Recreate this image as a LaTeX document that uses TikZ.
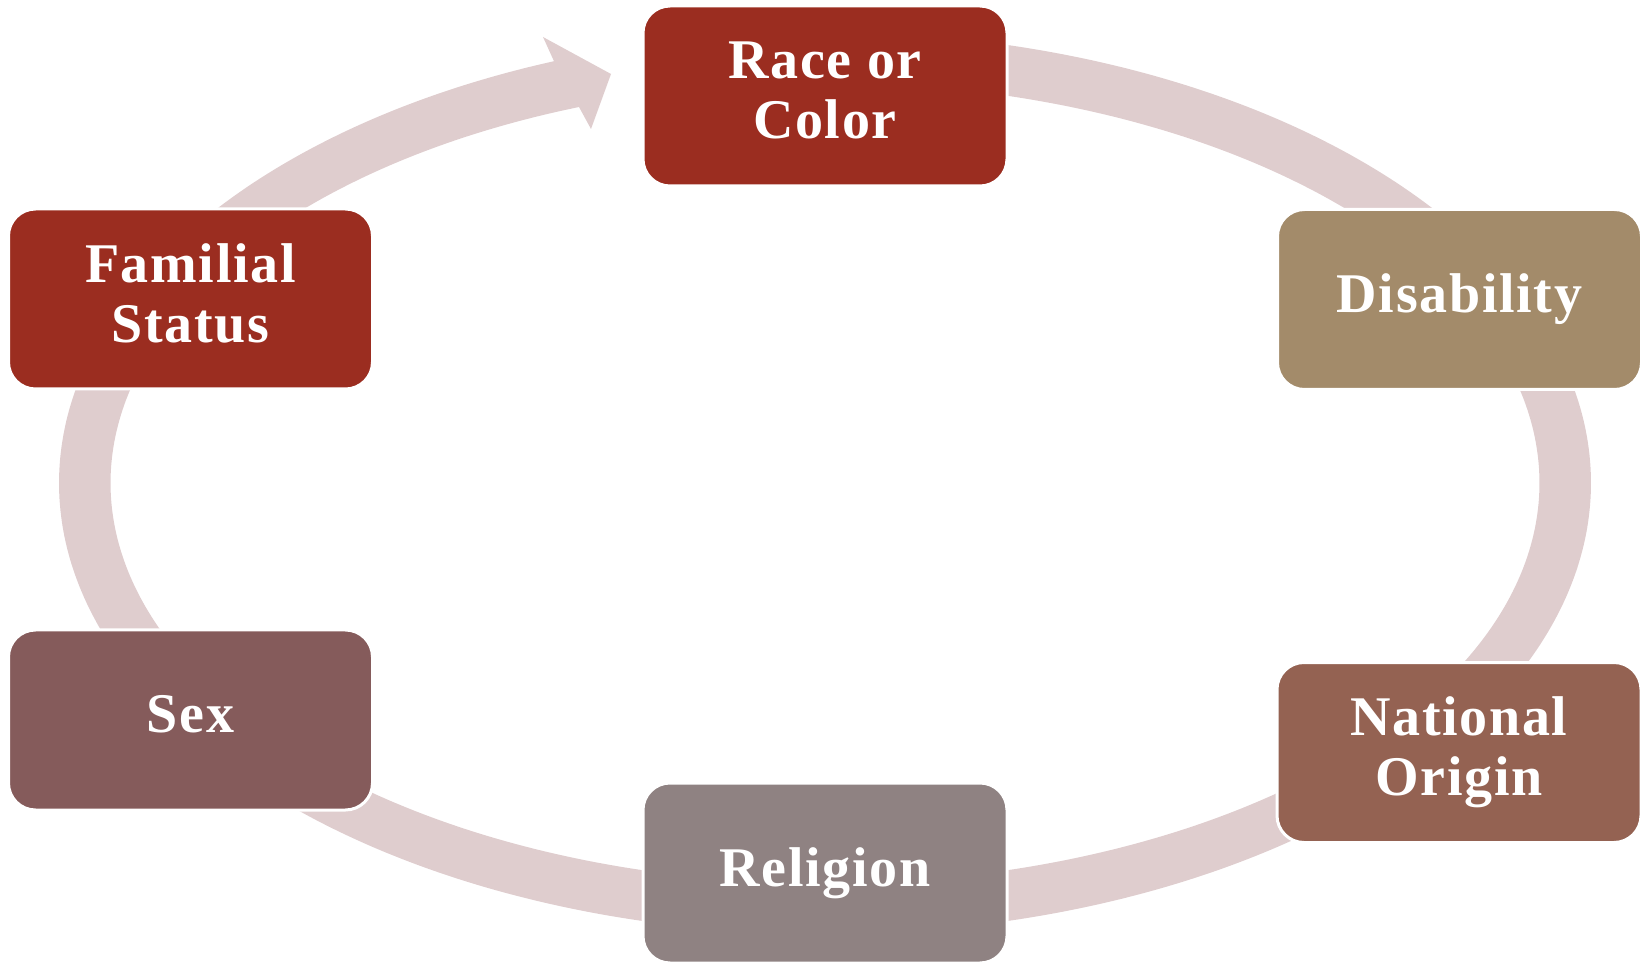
\documentclass[tikz,border=0pt]{standalone}
\usepackage{fontspec}
\setmainfont{Liberation Serif}
\definecolor{rust}{HTML}{9B2D20}
\definecolor{sand}{HTML}{A38B6A}
\definecolor{clay}{HTML}{946252}
\definecolor{ash}{HTML}{8F8282}
\definecolor{mauve}{HTML}{855B5B}
\definecolor{blush}{HTML}{DFCDCE}

\begin{document}
\begin{tikzpicture}[x=0.5pt, y=-0.5pt,
		tag/.style={rounded corners=13.5pt, draw=white, line width=1.5pt, minimum width=182pt, minimum height=90pt, inner sep=0pt, align=center, text=white, text depth=6pt, font=\bfseries\fontsize{28pt}{30pt}\selectfont\addfontfeature{LetterSpace=3}}]
			\useasboundingbox (0,0) rectangle (1645,962);
			\fill[blush] plot[domain=-80:249.28, samples=200, smooth, variable=\q] ({825+766*cos(\q)}, {483+451*sin(\q)}) -- (543,37) -- (611,74) -- (591,129) -- plot[domain=249.86:-80, samples=200, smooth, variable=\q] ({825+714.5*cos(\q)}, {483+400.5*sin(\q)}) -- cycle;
			\node[tag, fill=rust] (race) at (825,96) {Race or\\Color};
			\node[tag, fill=sand] (disability) at (1459.5,299.5) {Disability};
			\node[tag, fill=clay] (origin) at (1459,752.5) {National\\Origin};
			\node[tag, fill=ash] (religion) at (825,873) {Religion};
			\node[tag, fill=mauve] (sex) at (190.5,720) {Sex};
			\node[tag, fill=rust] (familial) at (190.5,299) {Familial\\Status};
		\end{tikzpicture}
\end{document}
